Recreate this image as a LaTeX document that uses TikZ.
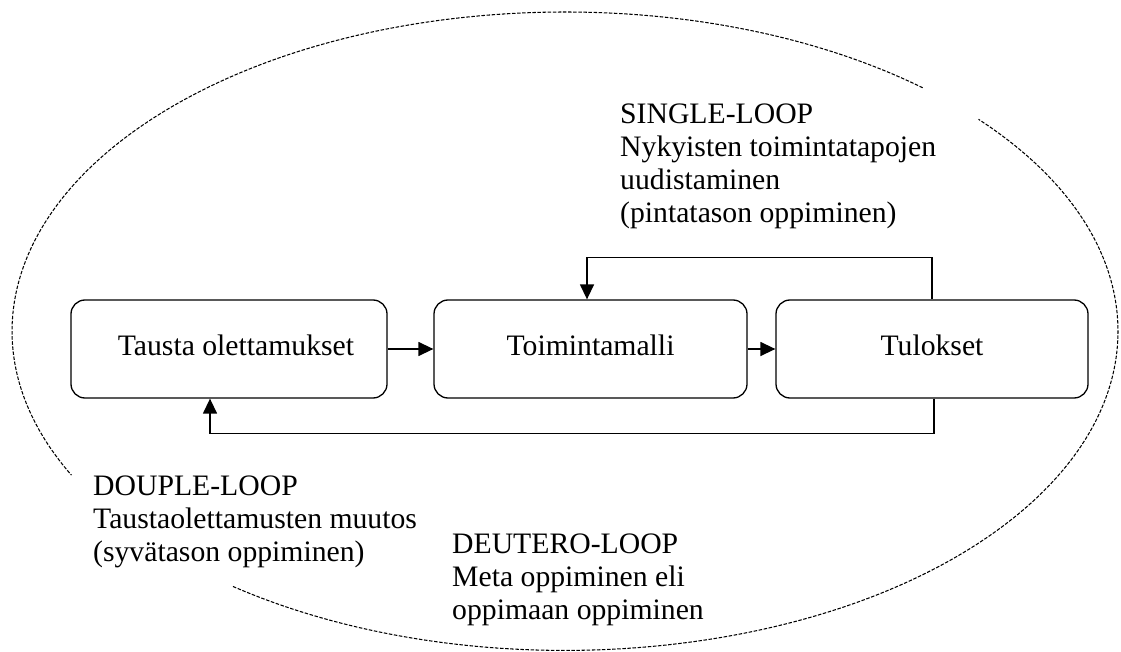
\documentclass[tikz,border=0pt]{standalone}
\usepackage{fontspec}
\setmainfont{Liberation Serif}
\usetikzlibrary{arrows.meta}
\begin{document}
\begin{tikzpicture}[x=1pt,y=-1pt,
  every node/.style={font=\fontsize{29.7pt}{33pt}\selectfont},
  stage/.style={draw, rounded corners=14pt, minimum height=98pt, line width=1.3pt,
    text height=16pt, text depth=4pt, inner sep=0pt},
  note/.style={align=left, anchor=north west, inner sep=0pt},
  flow/.style={line width=1.4pt, -{Triangle[length=15pt,width=14pt]}},
  rim/.style={line width=1.05pt, dash pattern=on 3.5pt off 1.6pt}]
\useasboundingbox (0,0) rectangle (1121,652);

% dashed outer ellipse, open where the loop texts sit
\coordinate (c) at (565,331.2);
\draw[rim] (c) ++(49.7:553pt and 319.2pt)
  arc[start angle=49.7, end angle=206.8, x radius=553pt, y radius=319.2pt];
\draw[rim] (c) ++(233.1:553pt and 319.2pt)
  arc[start angle=233.1, end angle=401.6, x radius=553pt, y radius=319.2pt];

% the three stages
\node[stage, minimum width=316pt] (t1) at (229,349) {\hspace*{14pt}Tausta olettamukset};
\node[stage, minimum width=313pt] (t2) at (590.5,349) {Toimintamalli};
\node[stage, minimum width=312pt] (t3) at (932,349) {Tulokset};

% forward flow
\draw[flow] (t1) -- (t2);
\draw[flow] (t2) -- (t3);

% single loop: results back to the operating model
\draw[flow] (t3.north) -- ++(0,-42) -| ([xshift=-3.5pt]t2.north);
% double loop: results back to the assumptions
\draw[flow] ([xshift=2pt]t3.south) -- ++(0,35) -| ([xshift=-19pt]t1.south);

% loop descriptions
\node[note] (single) at (620,104)
  {SINGLE-LOOP\\Nykyisten toimintatapojen\\uudistaminen\\(pintatason oppiminen)};
\node[note] (double) at (93,476)
  {DOUPLE-LOOP\\Taustaolettamusten muutos\\(syvätason oppiminen)};
\node[note] (deutero) at (452,534)
  {DEUTERO-LOOP\\Meta oppiminen eli\\oppimaan oppiminen};
\end{tikzpicture}
\end{document}
